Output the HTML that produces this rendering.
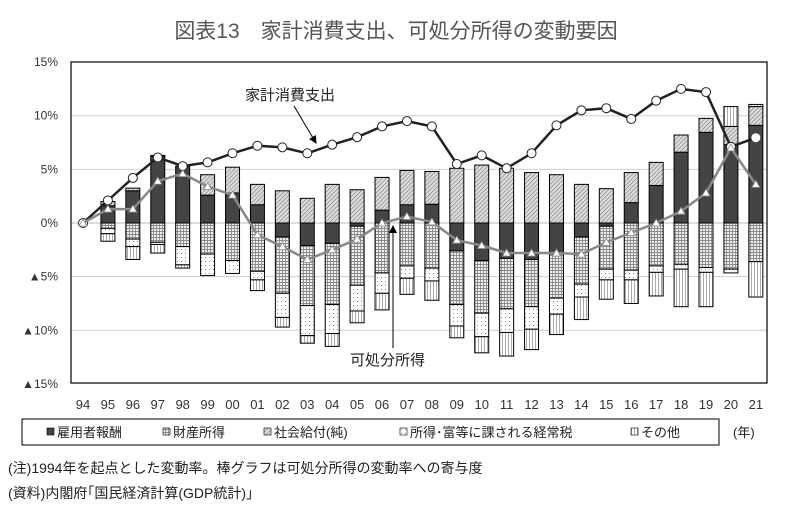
<!DOCTYPE html>
<html><head><meta charset="utf-8">
<style>
body{margin:0;background:#fff;width:792px;height:522px;overflow:hidden;font-family:"Liberation Sans","Noto Sans CJK JP",sans-serif;}
</style></head><body>
<svg id="s" width="792" height="522" viewBox="0 0 792 522" xmlns="http://www.w3.org/2000/svg" font-family="Liberation Sans, Noto Sans CJK JP, sans-serif">
<defs>
<pattern id="pg" width="3" height="3" patternUnits="userSpaceOnUse"><rect width="3" height="3" fill="#eee"/><path d="M0 0.5H3M0.5 0V3" stroke="#8a8a8a" stroke-width="0.9"/></pattern>
<pattern id="ph" width="3" height="3" patternUnits="userSpaceOnUse" patternTransform="rotate(45)"><rect width="3" height="3" fill="#ddd"/><path d="M0 0V3" stroke="#777" stroke-width="1.2"/></pattern>
<pattern id="pd" width="4" height="4" patternUnits="userSpaceOnUse"><rect width="4" height="4" fill="#fff"/><rect x="1" y="1" width="1" height="1" fill="#888"/></pattern>
<pattern id="pv" width="3" height="3" patternUnits="userSpaceOnUse"><rect width="3" height="3" fill="#fff"/><path d="M1.5 0V3" stroke="#aaa" stroke-width="1"/></pattern>
<marker id="ar" markerWidth="8" markerHeight="8" refX="7" refY="4" orient="auto" markerUnits="userSpaceOnUse"><path d="M0 0L8 4L0 8z" fill="#000"/></marker>
</defs>
<text x="396" y="38" text-anchor="middle" font-size="21" fill="#555">図表13　家計消費支出、可処分所得の変動要因</text>
<g id="grid"></g>
<g id="bars"></g>
<g id="lines"></g>
<rect x="71" y="62" width="696" height="321" fill="none" stroke="#000" stroke-width="1.2"/>
<text x="245" y="100" font-size="15" fill="#222">家計消費支出</text>
<line x1="294" y1="106" x2="316" y2="143" stroke="#000" stroke-width="1" marker-end="url(#ar)"/>
<text x="350" y="365" font-size="15" fill="#222">可処分所得</text>
<line x1="393" y1="348" x2="393" y2="226" stroke="#000" stroke-width="1" marker-end="url(#ar)"/>
<g id="lab" font-size="12" fill="#333"></g>
<rect x="22" y="419" width="697" height="26" fill="none" stroke="#000" stroke-width="1"/>
<g font-size="13" fill="#222">
<rect x="47" y="428" width="7" height="7" fill="#444" stroke="#000" stroke-width="0.6"/><text x="57" y="437">雇用者報酬</text>
<rect x="163" y="428" width="7" height="7" fill="url(#pg)" stroke="#000" stroke-width="0.6"/><text x="173" y="437">財産所得</text>
<rect x="264" y="428" width="7" height="7" fill="url(#ph)" stroke="#000" stroke-width="0.6"/><text x="274" y="437">社会給付(純)</text>
<rect x="400" y="428" width="7" height="7" fill="url(#pd)" stroke="#000" stroke-width="0.6"/><text x="410" y="437">所得･富等に課される経常税</text>
<rect x="631" y="428" width="7" height="7" fill="url(#pv)" stroke="#000" stroke-width="0.6"/><text x="641" y="437">その他</text>
<text x="733" y="437">(年)</text>
<text x="8" y="473" font-size="14">(注)1994年を起点とした変動率。棒グラフは可処分所得の変動率への寄与度</text>
<text x="8" y="498" font-size="14">(資料)内閣府｢国民経済計算(GDP統計)｣</text>
</g>
</svg>
<script>
var NS="http://www.w3.org/2000/svg";
function el(p,t,a){var e=document.createElementNS(NS,t);for(var k in a)e.setAttribute(k,a[k]);document.getElementById(p).appendChild(e);return e;}
var Y=function(v){return 223-10.73*v;};
var X=function(i){return 83+i*24.92;};
[10,5,-5,-10].forEach(function(v){el("grid","line",{x1:71,x2:767,y1:Y(v),y2:Y(v),stroke:"#d0d0d0","stroke-width":1});});
el("grid","line",{x1:71,x2:767,y1:223,y2:223,stroke:"#bbb","stroke-width":1});
var yl=[[15,"15%"],[10,"10%"],[5,"5%"],[0,"0%"],[-5,"▲5%"],[-10,"▲10%"],[-15,"▲15%"]];
yl.forEach(function(a){var t=el("lab","text",{x:58,y:Y(a[0])+4,"text-anchor":"end"});t.textContent=a[1];});
var yrs=["94","95","96","97","98","99","00","01","02","03","04","05","06","07","08","09","10","11","12","13","14","15","16","17","18","19","20","21"];
yrs.forEach(function(s,i){var t=el("lab","text",{x:X(i),y:409,"text-anchor":"middle","font-size":13});t.textContent=s;});
var P=[null,[1.6,0.4,0],[3.0,0.25,0],[6.2,0.1,0],[5.3,0,0],[2.6,1.9,0],[2.8,2.4,0],[1.7,1.9,0],[0,3.0,0],[0,2.3,0],[0,3.6,0],[0,3.1,0],[1.2,3.05,0],[1.7,3.2,0],[1.75,3.05,0],[0,5.1,0],[0,5.4,0],[0,5.1,0],[0,4.7,0],[0,4.5,0],[0,3.6,0],[0,3.2,0],[1.9,2.8,0],[3.5,2.15,0],[6.6,1.6,0],[8.45,1.3,0],[7.3,1.7,1.85],[9.1,1.75,0.2]];
var N=[null,[0,-0.5,-1.0,-1.7],[0,-1.5,-2.2,-3.4],[0,-1.8,-2.0,-2.8],[0,-2.2,-3.9,-4.2],[0,-2.9,-4.9,-4.9],[0,-3.5,-4.7,-4.7],[0,-4.5,-5.3,-6.3],[-1.3,-6.55,-8.8,-9.7],[-2.1,-7.7,-10.5,-11.2],[-1.9,-7.6,-10.3,-11.5],[-0.3,-5.8,-8.2,-9.3],[0,-4.65,-6.55,-8.1],[0,-4.0,-5.15,-6.65],[0,-4.2,-5.4,-7.2],[-2.6,-7.6,-9.6,-10.7],[-3.5,-8.4,-10.6,-12.1],[-3.3,-8.0,-10.2,-12.4],[-3.4,-7.8,-9.9,-11.8],[-2.9,-7.0,-8.5,-10.4],[-1.3,-5.7,-6.9,-9.0],[-0.3,-4.3,-5.3,-7.1],[0,-4.4,-5.3,-7.5],[0,-4.0,-4.6,-6.8],[0,-3.85,-4.3,-7.8],[0,-4.15,-4.6,-7.8],[0,-4.3,-4.65,-4.65],[0,-3.6,-3.6,-6.9]];
var fills=["#444","url(#pg)","url(#pd)","url(#pv)"];
function seg(i,a,b,f){if(Math.abs(a-b)<0.01)return;var y1=Y(Math.max(a,b)),y2=Y(Math.min(a,b));el("bars","rect",{x:X(i)-7,y:y1,width:14,height:y2-y1,fill:f,stroke:"#000","stroke-width":1});}
for(var i=1;i<28;i++){var p=P[i],c=0;seg(i,0,p[0],"#444");c=p[0];seg(i,c,c+p[1],"url(#ph)");c+=p[1];seg(i,c,c+p[2],"url(#pv)");
var n=N[i],prev=0;for(var k=0;k<4;k++){seg(i,prev,n[k],fills[k]);prev=n[k];}}
var C=[0,2.1,4.2,6.1,5.3,5.65,6.5,7.2,7.05,6.5,7.3,8.0,9.0,9.5,9.0,5.5,6.3,5.1,6.5,9.1,10.5,10.7,9.7,11.4,12.5,12.2,7.1,7.95];
var D=[0,1.3,1.3,3.9,4.6,3.4,2.6,-1.1,-2.2,-3.4,-2.5,-1.5,0,0.6,0.1,-1.6,-2.1,-2.8,-2.8,-2.8,-2.9,-1.8,-0.9,0,1.1,2.8,7.0,3.6];
function pts(a){return a.map(function(v,i){return X(i).toFixed(1)+","+Y(v).toFixed(1);}).join(" ");}
el("lines","polyline",{points:pts(C),fill:"none",stroke:"#222","stroke-width":2.5});
C.forEach(function(v,i){el("lines","circle",{cx:X(i),cy:Y(v),r:4.5,fill:"#fff",stroke:i==27?"none":"#222","stroke-width":1});});
el("lines","polyline",{points:pts(D),fill:"none",stroke:"#888","stroke-width":2.5});
D.forEach(function(v,i){var x=X(i),y=Y(v);el("lines","path",{d:"M"+x+" "+(y-4)+"L"+(x+4)+" "+(y+3)+"L"+(x-4)+" "+(y+3)+"Z",fill:"#fff",stroke:"#888","stroke-width":0.8});});
</script>
</body></html>
